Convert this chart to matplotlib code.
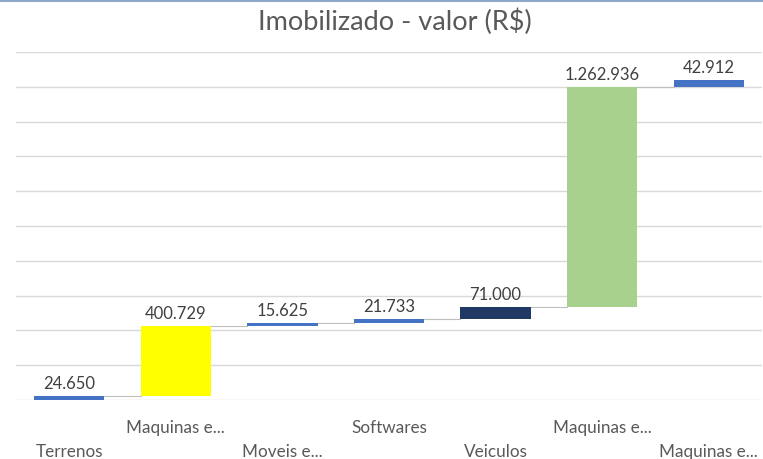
import numpy as np
import matplotlib.pyplot as plt
import matplotlib.transforms as mtransforms

plt.rcParams['font.family'] = ['Lato', 'DejaVu Sans']

categories = ['Terrenos', 'Maquinas e...', 'Moveis e...', 'Softwares', 'Veiculos', 'Maquinas e...', 'Maquinas e...']
values = [24650, 400729, 15625, 21733, 71000, 1262936, 42912]
labels = ['24.650', '400.729', '15.625', '21.733', '71.000', '1.262.936', '42.912']
colors = ['#4472C4', '#FFFF00', '#4472C4', '#4472C4', '#1F3864', '#A9D18E', '#4472C4']

fig = plt.figure(figsize=(7.63, 4.59), dpi=100)
ax = fig.add_axes([16 / 763, 1 - 400 / 459, 746 / 763, 348 / 459])

x = np.arange(len(values))
tops = np.cumsum(values)
bottoms = tops - np.array(values)

ax.bar(x, values, bottom=bottoms, width=0.66, color=colors, zorder=3)

# connectors
for i in range(len(values) - 1):
    ax.plot([i + 0.33, i + 1 - 0.33], [tops[i], tops[i]], color='#BFBFBF', lw=0.8, zorder=2)

for i in range(len(values)):
    ax.annotate(labels[i], (x[i], tops[i]), xytext=(0, 3), textcoords='offset points',
                ha='center', va='bottom', fontsize=12, color='#404040')

ax.set_xlim(-0.5, 6.5)
ax.set_ylim(0, 2000000)
ax.set_yticks(np.arange(0, 2000001, 200000))
ax.grid(axis='y', color='#D9D9D9', lw=1, zorder=0)
ax.tick_params(left=False, bottom=False, labelleft=False, labelbottom=False)
for s in ax.spines.values():
    s.set_visible(False)

trans = mtransforms.blended_transform_factory(ax.transData, ax.transAxes)
for i, c in enumerate(categories):
    yy = -0.08 if i % 2 == 1 else -0.15
    ax.text(i, yy, c, transform=trans, ha='center', va='center', fontsize=12.3,
            color='#595959', clip_on=False)

fig.text(0.517, 0.952, 'Imobilizado - valor (R$)', ha='center', va='center',
         fontsize=19.5, color='#595959')
fig.add_artist(plt.Line2D([0, 1], [0.997, 0.997], transform=fig.transFigure,
                          color='#8EA9C8', lw=1.5))

fig.savefig('out.png', dpi=100)
